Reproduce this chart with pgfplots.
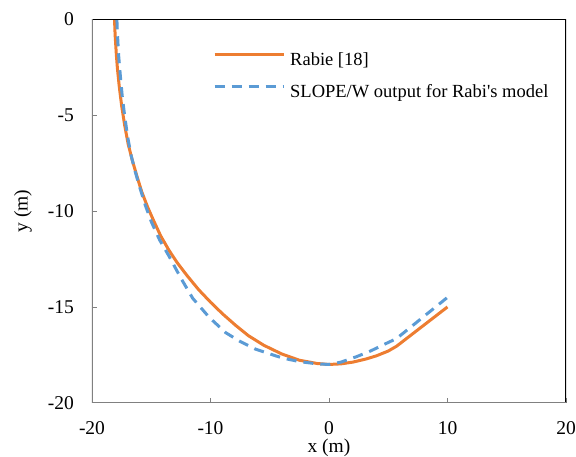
\documentclass[border=0pt]{standalone}
\usepackage{fontspec}
\setmainfont{Liberation Serif}
\usepackage{pgfplots}
\pgfplotsset{compat=1.18}

\definecolor{exorange}{RGB}{237,125,49}
\definecolor{exblue}{RGB}{91,155,213}

\begin{document}
\begin{tikzpicture}
\begin{axis}[
    at={(0pt,0pt)}, anchor=south west,
    scale only axis,
    width=474pt, height=383.5pt,
    xmin=-20, xmax=20, ymin=-20, ymax=0,
    xtick={-20,-10,0,10,20},
    ytick={-20,-15,-10,-5,0},
    xtick pos=left, ytick pos=left,
    tick align=inside,
    major tick length=5pt,
    tick style={gray, line width=0.8pt},
    axis line style={draw=none},
    /pgf/number format/assume math mode=true,
    ticklabel style={font=\fontsize{19.5}{22}\selectfont, inner sep=0pt},
    yticklabel style={anchor=east, xshift=-18pt},
    xticklabel style={anchor=north, yshift=-19pt},
    label style={font=\fontsize{19.5}{22}\selectfont},
    xlabel={x (m)},
    ylabel={y (m)},
    xlabel style={at={(axis description cs:0.5,-0.117)}, anchor=center},
    ylabel style={at={(axis description cs:-0.1456,0.5)}, anchor=center},
    legend style={
        at={(axis description cs:0.2553,0.853)}, anchor=west,
        draw=none, fill=none, inner sep=0pt,
        font=\fontsize{18.5}{21}\selectfont,
        nodes={inner sep=0pt, anchor=west},
        row sep=17pt, column sep=5pt,
    },
    legend cell align=left,
    legend image code/.code={\draw[#1] (0pt,5pt) -- (69pt,5pt);},
]
\addplot[exorange, line width=3pt] coordinates {
    (-18.10,0) (-18.05,-0.8) (-17.95,-1.8) (-17.85,-2.6) (-17.7,-3.5)
    (-17.5,-4.5) (-17.25,-5.5) (-16.95,-6.5) (-16.6,-7.35) (-16.2,-8.2)
    (-15.8,-9.0) (-15.3,-9.8) (-14.8,-10.5) (-14.2,-11.3) (-13.5,-12.05)
    (-12.8,-12.7) (-12.0,-13.35) (-11.0,-14.1) (-10.0,-14.75) (-9.0,-15.35)
    (-7.9,-15.95) (-6.8,-16.5) (-5.5,-17.0) (-4.0,-17.45) (-2.5,-17.78)
    (-1.0,-17.95) (0,-18.0) (1.0,-17.97) (2.0,-17.88) (3.1,-17.72)
    (4.0,-17.55) (5.0,-17.3) (5.7,-17.05) (10.0,-15.0)
};
\addlegendentry{Rabie [18]}
\addplot[exblue, line width=3pt, dash pattern=on 10pt off 7pt] coordinates {
    (-17.9,0) (-17.85,-0.8) (-17.75,-1.9) (-17.6,-3.0) (-17.45,-4.0)
    (-17.25,-5.0) (-17.0,-6.1) (-16.7,-7.1) (-16.35,-7.95) (-16.0,-8.7)
    (-15.5,-9.7) (-15.0,-10.55) (-14.3,-11.5) (-13.5,-12.35) (-12.5,-13.5)
    (-11.5,-14.55) (-10.1,-15.55) (-8.7,-16.35) (-7.5,-16.8) (-6.2,-17.2)
    (-5.0,-17.45) (-3.9,-17.67) (-2.5,-17.85) (-1.0,-17.97) (0,-18.0)
    (1.0,-17.88) (2.3,-17.6) (3.5,-17.3) (4.5,-17.0) (5.7,-16.65)
    (7.0,-16.0) (8.5,-15.25) (10.0,-14.5)
};
\addlegendentry{SLOPE/W output for Rabi\textquotesingle s model}
\draw[black, line width=1.6pt] (rel axis cs:0,1) -- (rel axis cs:1,1) -- (rel axis cs:1,0);
\draw[gray, line width=2.3pt] (rel axis cs:0,1) -- (rel axis cs:0,0) -- (rel axis cs:1,0);
\end{axis}
\pgfresetboundingbox
\path[use as bounding box] (-92pt,-53.3pt) rectangle (484pt,402.8pt);
\end{tikzpicture}
\end{document}
